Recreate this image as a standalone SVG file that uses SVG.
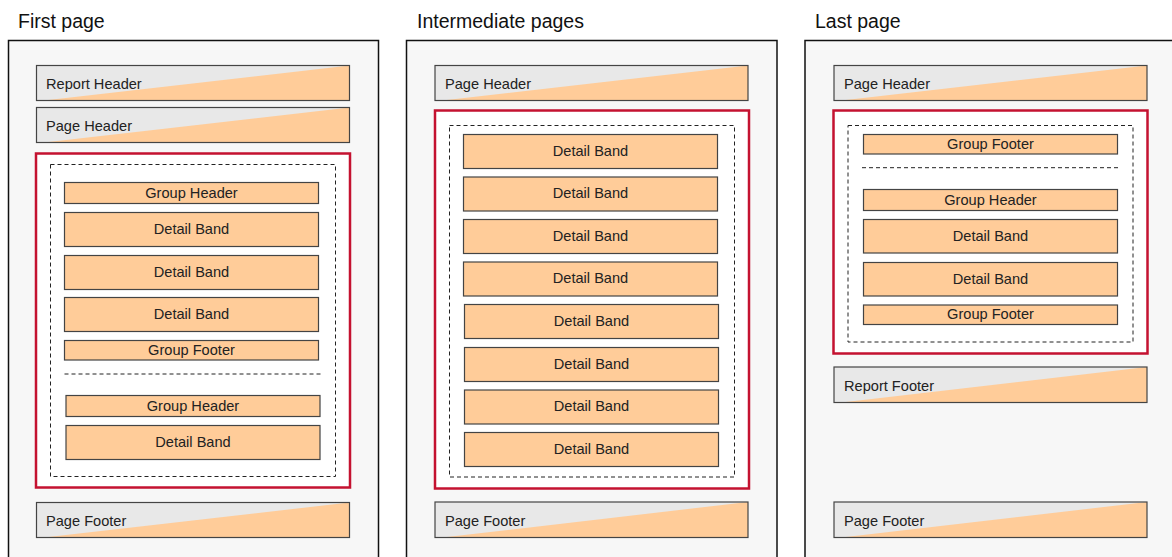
<svg xmlns="http://www.w3.org/2000/svg" width="1172" height="557" viewBox="0 0 1172 557">
<style>
  .title{font-family:"Liberation Sans",Arial,sans-serif;font-size:19.5px;fill:#111}
  .lbl{font-family:"Liberation Sans",Arial,sans-serif;font-size:14.6px;fill:#222}
  .c{text-anchor:middle}
  .page{fill:#f7f7f7;stroke:#111;stroke-width:1.5}
  .red{fill:#fff;stroke:#c41230;stroke-width:2.5}
  .dash{fill:none;stroke:#222;stroke-width:1;stroke-dasharray:4 3}
  .band{fill:#ffcc99;stroke:#444;stroke-width:1.2}
  .hb{fill:#e8e8e8}
  .tri{fill:#ffcc99}
  .hbo{fill:none;stroke:#444;stroke-width:1.2}
</style>
<rect width="1172" height="557" fill="#fff"/>

<g id="first-page">
  <text class="title" x="18" y="28">First page</text>
  <rect class="page" x="8.5" y="40.5" width="370" height="530"/>
  <g id="p1-report-header">
    <rect class="hb" x="36.5" y="65.5" width="313" height="35"/>
    <polygon class="tri" points="44,100.5 349.5,65.5 349.5,100.5"/>
    <rect class="hbo" x="36.5" y="65.5" width="313" height="35"/>
    <text class="lbl" x="46" y="89">Report Header</text>
  </g>
  <g id="p1-page-header">
    <rect class="hb" x="36.5" y="107.5" width="313" height="35"/>
    <polygon class="tri" points="44,142.5 349.5,107.5 349.5,142.5"/>
    <rect class="hbo" x="36.5" y="107.5" width="313" height="35"/>
    <text class="lbl" x="46" y="131">Page Header</text>
  </g>
  <g id="p1-body">
    <rect class="red" x="36" y="153.5" width="314" height="334"/>
    <rect class="dash" x="50.5" y="164.5" width="285" height="312"/>
    <g id="p1-group-header-1">
      <rect class="band" x="64.5" y="182.5" width="254" height="21"/>
      <text class="lbl c" x="191.5" y="197.6">Group Header</text>
    </g>
    <g id="p1-detail-1">
      <rect class="band" x="64.5" y="212.5" width="254" height="34"/>
      <text class="lbl c" x="191.5" y="233.8">Detail Band</text>
    </g>
    <g id="p1-detail-2">
      <rect class="band" x="64.5" y="255.5" width="254" height="34"/>
      <text class="lbl c" x="191.5" y="276.8">Detail Band</text>
    </g>
    <g id="p1-detail-3">
      <rect class="band" x="64.5" y="297.5" width="254" height="34"/>
      <text class="lbl c" x="191.5" y="318.8">Detail Band</text>
    </g>
    <g id="p1-group-footer-1">
      <rect class="band" x="64.5" y="340.5" width="254" height="19.5"/>
      <text class="lbl c" x="191.5" y="354.8">Group Footer</text>
    </g>
    <line class="dash" x1="64.5" y1="374" x2="321.5" y2="374"/>
    <g id="p1-group-header-2">
      <rect class="band" x="66" y="395.5" width="254" height="21"/>
      <text class="lbl c" x="193" y="410.6">Group Header</text>
    </g>
    <g id="p1-detail-4">
      <rect class="band" x="66" y="425.5" width="254" height="34"/>
      <text class="lbl c" x="193" y="446.8">Detail Band</text>
    </g>
  </g>
  <g id="p1-page-footer">
    <rect class="hb" x="36.5" y="502.5" width="313" height="35"/>
    <polygon class="tri" points="44,537.5 349.5,502.5 349.5,537.5"/>
    <rect class="hbo" x="36.5" y="502.5" width="313" height="35"/>
    <text class="lbl" x="46" y="526">Page Footer</text>
  </g>
</g>

<g id="intermediate-pages">
  <text class="title" x="417" y="28">Intermediate pages</text>
  <rect class="page" x="406.5" y="40.5" width="370.5" height="530"/>
  <g id="p2-page-header">
    <rect class="hb" x="435" y="65.5" width="313" height="35"/>
    <polygon class="tri" points="442.5,100.5 748,65.5 748,100.5"/>
    <rect class="hbo" x="435" y="65.5" width="313" height="35"/>
    <text class="lbl" x="445" y="89">Page Header</text>
  </g>
  <g id="p2-body">
    <rect class="red" x="435" y="110.5" width="314" height="378"/>
    <rect class="dash" x="449.5" y="125.5" width="285" height="351.5"/>
    <g id="p2-detail-1"><rect class="band" x="463.5" y="134.5" width="254" height="34"/><text class="lbl c" x="590.5" y="155.8">Detail Band</text></g>
    <g id="p2-detail-2"><rect class="band" x="463.5" y="177" width="254" height="34"/><text class="lbl c" x="590.5" y="198.3">Detail Band</text></g>
    <g id="p2-detail-3"><rect class="band" x="463.5" y="219.5" width="254" height="34"/><text class="lbl c" x="590.5" y="240.8">Detail Band</text></g>
    <g id="p2-detail-4"><rect class="band" x="463.5" y="262" width="254" height="34"/><text class="lbl c" x="590.5" y="283.3">Detail Band</text></g>
    <g id="p2-detail-5"><rect class="band" x="464.5" y="304.5" width="254" height="34"/><text class="lbl c" x="591.5" y="325.8">Detail Band</text></g>
    <g id="p2-detail-6"><rect class="band" x="464.5" y="347.5" width="254" height="34"/><text class="lbl c" x="591.5" y="368.8">Detail Band</text></g>
    <g id="p2-detail-7"><rect class="band" x="464.5" y="390" width="254" height="34"/><text class="lbl c" x="591.5" y="411.3">Detail Band</text></g>
    <g id="p2-detail-8"><rect class="band" x="464.5" y="432.5" width="254" height="34"/><text class="lbl c" x="591.5" y="453.8">Detail Band</text></g>
  </g>
  <g id="p2-page-footer">
    <rect class="hb" x="435" y="502" width="313" height="35.5"/>
    <polygon class="tri" points="442.5,537.5 748,502 748,537.5"/>
    <rect class="hbo" x="435" y="502" width="313" height="35.5"/>
    <text class="lbl" x="445" y="525.8">Page Footer</text>
  </g>
</g>

<g id="last-page">
  <text class="title" x="815" y="28">Last page</text>
  <rect class="page" x="805" y="40.5" width="380" height="530"/>
  <g id="p3-page-header">
    <rect class="hb" x="834" y="65.5" width="313" height="35"/>
    <polygon class="tri" points="841.5,100.5 1147,65.5 1147,100.5"/>
    <rect class="hbo" x="834" y="65.5" width="313" height="35"/>
    <text class="lbl" x="844" y="89">Page Header</text>
  </g>
  <g id="p3-body">
    <rect class="red" x="833.5" y="110.5" width="314" height="243"/>
    <rect class="dash" x="848" y="125.5" width="285" height="216.5"/>
    <g id="p3-group-footer-1"><rect class="band" x="863.5" y="134.5" width="254" height="19.5"/><text class="lbl c" x="990.5" y="148.8">Group Footer</text></g>
    <line class="dash" x1="862" y1="167.7" x2="1119" y2="167.7"/>
    <g id="p3-group-header"><rect class="band" x="863.5" y="189.5" width="254" height="21"/><text class="lbl c" x="990.5" y="204.6">Group Header</text></g>
    <g id="p3-detail-1"><rect class="band" x="863.5" y="219.5" width="254" height="33.5"/><text class="lbl c" x="990.5" y="240.6">Detail Band</text></g>
    <g id="p3-detail-2"><rect class="band" x="863.5" y="262.5" width="254" height="33.5"/><text class="lbl c" x="990.5" y="283.6">Detail Band</text></g>
    <g id="p3-group-footer-2"><rect class="band" x="863.5" y="305" width="254" height="19.5"/><text class="lbl c" x="990.5" y="319.3">Group Footer</text></g>
  </g>
  <g id="p3-report-footer">
    <rect class="hb" x="834" y="367" width="313" height="35.5"/>
    <polygon class="tri" points="841.5,402.5 1147,367 1147,402.5"/>
    <rect class="hbo" x="834" y="367" width="313" height="35.5"/>
    <text class="lbl" x="844" y="390.8">Report Footer</text>
  </g>
  <g id="p3-page-footer">
    <rect class="hb" x="834" y="502" width="313" height="35.5"/>
    <polygon class="tri" points="841.5,537.5 1147,502 1147,537.5"/>
    <rect class="hbo" x="834" y="502" width="313" height="35.5"/>
    <text class="lbl" x="844" y="525.8">Page Footer</text>
  </g>
</g>

<g id="connectors"/>
</svg>
